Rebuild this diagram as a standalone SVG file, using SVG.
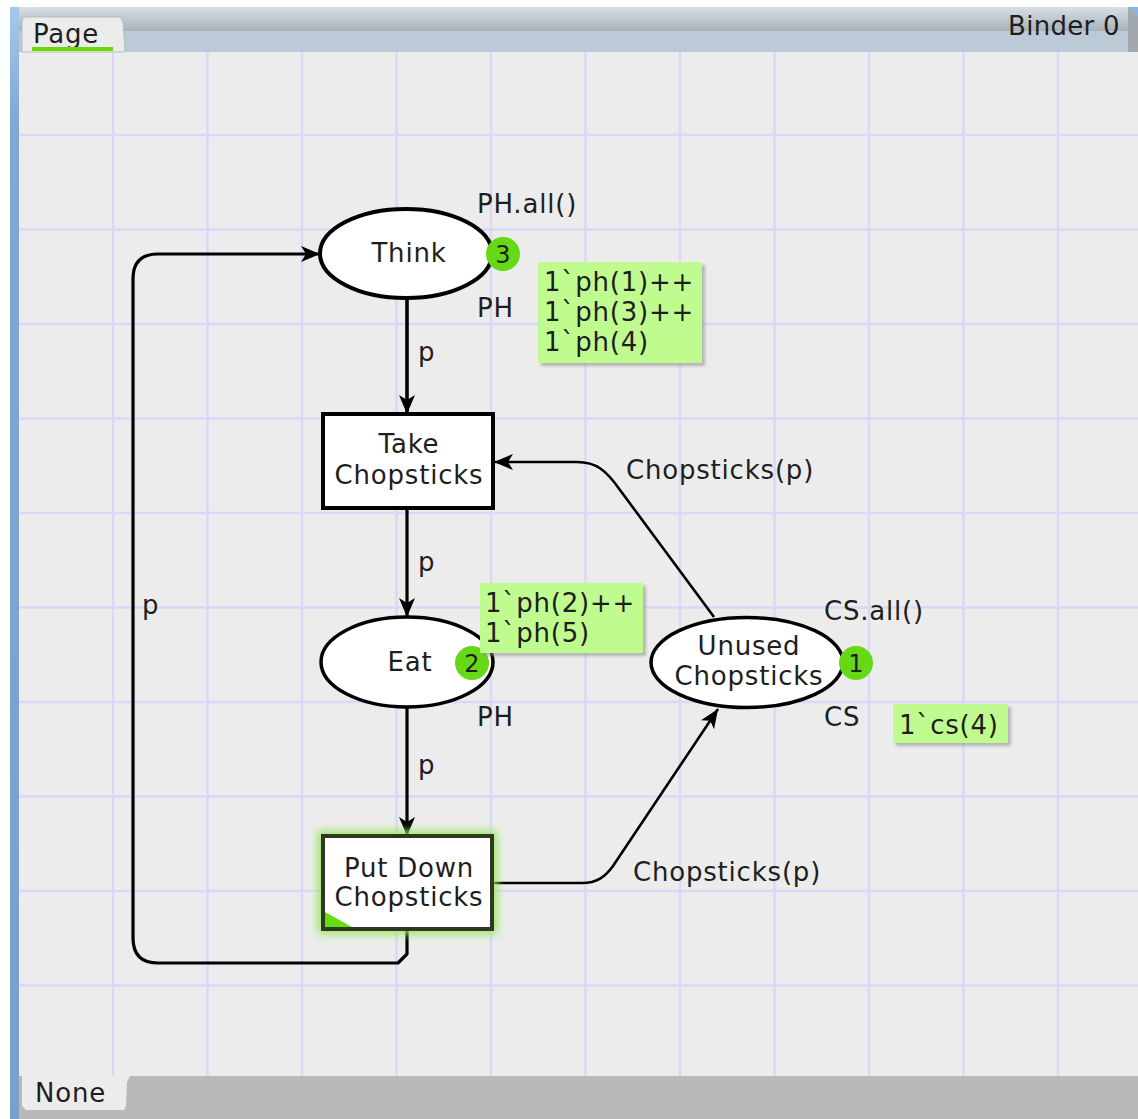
<svg xmlns="http://www.w3.org/2000/svg" width="1138" height="1119" viewBox="0 0 1138 1119">
<defs>
<style>
.t{font-family:"DejaVu Sans","Verdana",sans-serif;font-size:26px;letter-spacing:0.8px;fill:#1e1e1e}
.m{text-anchor:middle}
.grid line{stroke:#d9d9f7;stroke-width:2.5}
.arc{fill:none;stroke:#000;stroke-width:3.2;stroke-linejoin:round}
.node{fill:#fff;stroke:#000;stroke-width:4}
.tok{fill:#66d916}
.mk{fill:#c0fb90}
.sh{fill:#888;opacity:0.55}
</style>
<linearGradient id="bar" x1="0" y1="0" x2="0" y2="1">
<stop offset="0" stop-color="#d8dfe6"/>
<stop offset="1" stop-color="#a9b1b9"/>
</linearGradient>
<linearGradient id="blue" x1="0" y1="0" x2="0" y2="1">
<stop offset="0" stop-color="#a6c8ee"/>
<stop offset="0.1" stop-color="#82a8d2"/>
<stop offset="1" stop-color="#7a9fcb"/>
</linearGradient>
<marker id="ah" viewBox="0 0 20 16" refX="19" refY="8" markerWidth="20" markerHeight="16" markerUnits="userSpaceOnUse" orient="auto">
<path d="M0,0 L19,8 L0,16 L5,8 z" fill="#000"/>
</marker>
<filter id="glow" x="-20%" y="-20%" width="140%" height="140%">
<feGaussianBlur stdDeviation="4"/>
</filter>
<filter id="blur" x="-10%" y="-10%" width="120%" height="130%">
<feGaussianBlur stdDeviation="1.5"/>
</filter>
</defs>
<rect x="0" y="0" width="1138" height="1119" fill="#ffffff"/>
<rect x="18" y="52" width="1120" height="1024" fill="#ececec"/>
<g class="grid">
<line x1="113" y1="52" x2="113" y2="1076"/>
<line x1="207.5" y1="52" x2="207.5" y2="1076"/>
<line x1="302" y1="52" x2="302" y2="1076"/>
<line x1="396.5" y1="52" x2="396.5" y2="1076"/>
<line x1="491" y1="52" x2="491" y2="1076"/>
<line x1="585.5" y1="52" x2="585.5" y2="1076"/>
<line x1="680" y1="52" x2="680" y2="1076"/>
<line x1="774.5" y1="52" x2="774.5" y2="1076"/>
<line x1="869" y1="52" x2="869" y2="1076"/>
<line x1="963.5" y1="52" x2="963.5" y2="1076"/>
<line x1="1058" y1="52" x2="1058" y2="1076"/>
<line x1="18" y1="135" x2="1138" y2="135"/>
<line x1="18" y1="229.5" x2="1138" y2="229.5"/>
<line x1="18" y1="324" x2="1138" y2="324"/>
<line x1="18" y1="418.5" x2="1138" y2="418.5"/>
<line x1="18" y1="513" x2="1138" y2="513"/>
<line x1="18" y1="607.5" x2="1138" y2="607.5"/>
<line x1="18" y1="702" x2="1138" y2="702"/>
<line x1="18" y1="796.5" x2="1138" y2="796.5"/>
<line x1="18" y1="891" x2="1138" y2="891"/>
<line x1="18" y1="985.5" x2="1138" y2="985.5"/>
</g>
<g id="top-bar">
<rect x="18" y="7" width="1120" height="24" fill="url(#bar)"/>
<rect x="18" y="31" width="1120" height="21" fill="#bccad8"/>
<rect x="1128" y="7" width="10" height="45" fill="#a3a8ad"/>
<path d="M1128,7 L1138,7 L1138,17 z" fill="#8fb4e0"/>
<path d="M22,52 L22,21 Q22,17 26,17 L120,17 L123,22 L125,52 z" fill="#ececec" stroke="#b8bcc0" stroke-width="1"/>
<text class="t" x="33" y="43" style="font-size:26px">Page</text>
<rect x="32" y="47" width="81" height="4" fill="#66dd00"/>
<text class="t" x="1008" y="35" style="font-size:26px;letter-spacing:0.3px">Binder 0</text>
</g>
<g id="bottom-bar">
<rect x="18" y="1076" width="1120" height="43" fill="#b9b9b9"/>
<path d="M22,1076 L130,1076 L127,1082 L126,1106 L124,1110 L26,1110 L22,1106 z" fill="#ececec"/>
<text class="t" x="35" y="1102" style="font-size:26px">None</text>
</g>
<rect x="10" y="7" width="9" height="1112" fill="url(#blue)"/>
<g id="connectors">
<path class="arc" style="stroke-width:3.6" d="M407,298 L407,414" marker-end="url(#ah)"/>
<path class="arc" d="M407,508 L407,617" marker-end="url(#ah)"/>
<path class="arc" d="M407,707 L407,836" marker-end="url(#ah)"/>
<path class="arc" d="M407,929 L407,954 L398,963 L158,963 Q133,963 133,938 L133,279 Q133,254 158,254 L320,254" marker-end="url(#ah)"/>
<path class="arc" style="stroke-width:2.6" d="M714,617 L620,490 C606,470 596,462 577,462 L494,462" marker-end="url(#ah)"/>
<path class="arc" style="stroke-width:2.6" d="M493,883 L582,883 C597,883 605,877 613,866 L718,709" marker-end="url(#ah)"/>
<text class="t" x="418" y="361">p</text>
<text class="t" x="418" y="571">p</text>
<text class="t" x="418" y="774">p</text>
<text class="t" x="142" y="614">p</text>
<text class="t" x="626" y="479">Chopsticks(p)</text>
<text class="t" x="633" y="881">Chopsticks(p)</text>
</g>
<g id="think">
<ellipse class="node" cx="406" cy="253.5" rx="86" ry="44.5"/>
<text class="t m" x="409" y="262">Think</text>
<circle class="tok" cx="503" cy="254" r="17"/>
<text class="t m" x="503" y="263" style="font-size:24px;letter-spacing:0">3</text>
<text class="t" x="477" y="213">PH.all()</text>
<text class="t" x="477" y="317">PH</text>
<rect class="sh" x="541" y="265" width="164" height="101" filter="url(#blur)"/>
<rect class="mk" x="538" y="262" width="164" height="101"/>
<text class="t" x="544" y="291">1`ph(1)++</text>
<text class="t" x="544" y="321">1`ph(3)++</text>
<text class="t" x="544" y="351">1`ph(4)</text>
</g>
<g id="take-chopsticks">
<rect class="node" x="323" y="414" width="170" height="94"/>
<text class="t m" x="409" y="453">Take</text>
<text class="t m" x="409" y="484">Chopsticks</text>
</g>
<g id="eat">
<ellipse class="node" cx="407" cy="662" rx="86" ry="45" style="stroke-width:3.5"/>
<text class="t m" x="410" y="671">Eat</text>
<circle class="tok" cx="472" cy="663" r="17"/>
<text class="t m" x="472" y="672" style="font-size:24px;letter-spacing:0">2</text>
<rect class="sh" x="483" y="586" width="163" height="70" filter="url(#blur)"/>
<rect class="mk" x="480" y="583" width="163" height="70"/>
<text class="t" x="485" y="612">1`ph(2)++</text>
<text class="t" x="485" y="642">1`ph(5)</text>
<text class="t" x="477" y="726">PH</text>
</g>
<g id="unused-chopsticks">
<ellipse class="node" cx="747" cy="662.5" rx="96" ry="45" style="stroke-width:3.5"/>
<text class="t m" x="749" y="655">Unused</text>
<text class="t m" x="749" y="685">Chopsticks</text>
<circle class="tok" cx="856" cy="663" r="17"/>
<text class="t m" x="856" y="672" style="font-size:24px;letter-spacing:0">1</text>
<text class="t" x="824" y="620">CS.all()</text>
<text class="t" x="824" y="726">CS</text>
<rect class="sh" x="896" y="707" width="115" height="39" filter="url(#blur)"/>
<rect class="mk" x="893" y="704" width="115" height="39"/>
<text class="t" x="899" y="734">1`cs(4)</text>
</g>
<g id="put-down-chopsticks">
<rect x="323" y="836" width="169" height="93" fill="none" stroke="#9be65a" stroke-width="10" filter="url(#glow)"/>
<rect x="323" y="836" width="169" height="93" fill="#fff" stroke="#2c3a22" stroke-width="4"/>
<path d="M325,912 L325,927 L352,927 z" fill="#66dd11"/>
<text class="t m" x="409" y="877">Put Down</text>
<text class="t m" x="409" y="906">Chopsticks</text>
</g>
</svg>
